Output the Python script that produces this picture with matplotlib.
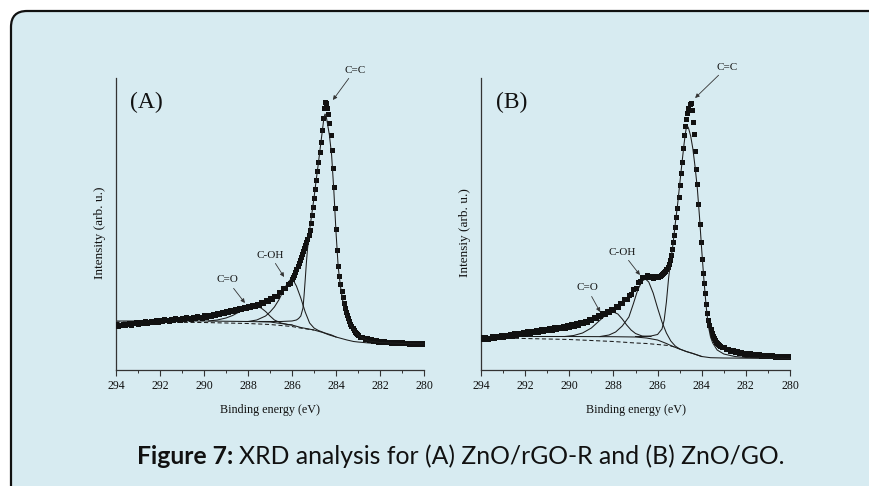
import numpy as np
import matplotlib
matplotlib.use("Agg")
import matplotlib.pyplot as plt
from matplotlib.patches import FancyBboxPatch

W, H, DPI = 869, 486, 100

# ---------------- data ----------------
# binding energy sampling (eV): 0.1 eV on the flanks, 0.05 eV around the main peak
energy = np.concatenate([np.arange(294.0, 286.05, -0.1),
                         np.arange(286.0, 283.025, -0.05),
                         np.arange(283.0, 279.95, -0.1)])

intensity_A = [
    46, 44, 45.5, 46.5, 45, 46.5, 47.5, 45.5, 47, 48, 46.5,
    48.5, 47, 49, 47.5, 48, 49.5, 48, 50, 48.5, 50.5,
    49, 51, 50, 49.5, 51.5, 50, 52, 51, 50.5, 52.5,
    51, 53, 52, 51.5, 53.5, 52, 54, 53, 52.5, 55,
    53, 55.5, 54, 56.5, 55, 57.5, 56, 58.5, 57, 59.5,
    58, 60.5, 59, 61.5, 60, 62.5, 61, 63.5, 62, 64.5,
    63, 65.5, 64, 66.5, 65, 68, 67, 70, 69, 72,
    71, 74.5, 74, 78, 78, 82, 82, 86.5, 87,
    91, 93, 95, 98, 101, 104, 107, 110, 113, 116,
    119, 122, 125, 128, 131, 135, 140, 147, 155, 163,
    172, 181, 190, 199, 208, 218, 228, 240, 252, 262,
    268, 267, 262, 256, 247, 235, 220, 202, 183, 162,
    141, 120, 104, 94, 86, 79, 73, 67, 62, 58,
    55, 52, 49, 46.5, 44, 42, 40, 38.5, 37, 36,
    35.5, 33.5, 33.5, 31.5, 32, 30.5, 31, 29.5, 30, 28.5, 29.5,
    28, 29, 28, 28.5, 27.5, 28.5, 27.5, 28, 27, 28,
    27, 27.5, 26.5, 27.5, 26.5, 27.5, 26.5, 27, 26, 27]

intensity_B = [
    33, 31, 33.5, 31.5, 32, 34, 32.5, 34.5, 33, 35, 33.5,
    35.5, 34, 36.5, 34.5, 37, 35, 37.5, 36, 38, 36.5,
    39, 37, 39.5, 38, 40, 38.5, 41, 39, 41.5, 40,
    42, 40.5, 43, 41, 43.5, 42, 44, 42.5, 45, 43.5,
    46, 44.5, 47, 45.5, 48, 47, 49.5, 48.5, 51, 50,
    53, 52, 55, 54, 57, 56, 59, 58, 61, 60.5,
    64, 63.5, 67, 67, 71, 71, 75, 76, 81, 82.5,
    88, 89, 93.5, 93, 95.5, 93, 94.5, 92, 94,
    93.5, 94, 94.5, 95.5, 96.5, 97.5, 98.5, 99.5, 101, 103,
    106, 110, 115, 121, 128, 135, 143, 153, 162, 173,
    185, 197, 208, 222, 235, 244, 251, 257, 262, 266,
    267, 260, 248, 236, 219, 201, 186, 166, 146, 128,
    111, 97, 87, 77, 66, 57, 50, 45, 41, 37.5,
    34, 32, 30, 28.5, 27, 26, 25, 24, 23.5, 23,
    23, 21, 21, 19.5, 20, 18.5, 19, 17.5, 18, 16.5, 17.5,
    16, 17, 15.5, 16.5, 15, 16, 14.5, 15.5, 14.5, 15,
    14, 15, 13.5, 14.5, 13.5, 14.5, 13, 14, 13, 14]

# fitted background / components, panel A
bgA_E = [294, 290, 288, 287, 286.5, 286, 285.6, 285.0, 284.6, 284.3, 284.0, 283.5, 283.2, 283.0, 282.5, 282.0, 280]
bgA_I = [49, 49, 48.5, 48, 46.5, 45, 42.5, 40, 37.5, 35, 33, 30, 28.5, 28, 27, 26.5, 26]
dashA_E = [294, 290, 288, 287, 286.5, 286, 285.5, 285.0]
dashA_I = [48, 47.5, 46.5, 45.5, 44.5, 43.5, 41.5, 40]
coA_E = [289.8, 289.4, 289.0, 288.7, 288.4, 288.1, 287.8, 287.6, 287.4, 287.2, 287.0, 286.8, 286.5, 286.2, 286.0]
coA_I = [49, 50, 52, 54.5, 58, 61.5, 63.5, 63.5, 62, 58.5, 54, 50, 47, 45.5, 45]
cohA_E = [288.0, 287.6, 287.2, 287.0, 286.8, 286.6, 286.4, 286.2, 286.05, 285.95, 285.8, 285.6, 285.4, 285.2, 285.0, 284.8, 284.5, 284.2, 284.0]
cohA_I = [48.5, 50, 54, 58, 63, 70, 79, 87, 91, 90, 84, 72, 58, 47, 42, 39.5, 37, 35, 33]
ccA_E = [287.5, 287.0, 286.5, 286.0, 285.8, 285.7, 285.6, 285.5, 285.45, 285.4, 285.35, 285.3, 285.2, 285.1,
         285.0, 284.9, 284.8, 284.7, 284.6, 284.55, 284.5, 284.45, 284.4, 284.3, 284.2, 284.1, 284.0, 283.9,
         283.8, 283.7, 283.6, 283.5, 283.4, 283.2, 283.0, 282.8, 282.5, 282.0, 281.0, 280.0]
ccA_I = [48.5, 48.5, 48.5, 49, 50, 51.5, 54, 62, 75, 90, 106, 120, 140, 156,
         172, 190, 207, 225, 243, 252, 256, 254, 248, 235, 215, 180, 138, 103,
         84, 70, 60, 53, 47, 40, 35, 32, 29, 27.5, 26.5, 26]

# fitted background / components, panel B
bgB_E = [294, 290, 288, 287, 286.5, 286.0, 285.6, 285.3, 285.0, 284.7, 284.4, 284.0, 283.6, 283.0, 280.0]
bgB_I = [33.5, 33.5, 33.3, 33, 32, 30, 26.5, 23.5, 21, 18.5, 16.5, 13.5, 12.3, 12, 11.5]
dashB_E = [294, 292, 290, 289, 288, 287, 286.5, 286.0, 285.5, 285.2, 285.0]
dashB_I = [32.5, 31.5, 30.5, 29.5, 28.5, 27, 26.5, 25.5, 24.5, 23, 21]
coB_E = [290.2, 289.8, 289.4, 289.0, 288.7, 288.4, 288.2, 288.0, 287.8, 287.6, 287.4, 287.2, 287.0, 286.7, 286.3]
coB_I = [33.5, 34.5, 37, 42, 48, 54, 57, 58, 56, 51, 45, 40, 36.5, 34, 33.5]
cohB_E = [288.6, 288.2, 287.9, 287.6, 287.3, 287.1, 286.9, 286.7, 286.55, 286.4, 286.2, 286.0, 285.8, 285.6,
          285.4, 285.2, 285.0, 284.7, 284.4, 284.0]
cohB_I = [33.5, 35, 38, 44, 53, 66, 80, 89, 91, 88, 77, 62, 48, 37, 29, 24, 21, 18.5, 16.5, 13.5]
ccB_E = [287.0, 286.6, 286.3, 286.0, 285.8, 285.7, 285.6, 285.5, 285.4, 285.3, 285.2, 285.1, 285.0, 284.9,
         284.8, 284.75, 284.7, 284.65, 284.6, 284.5, 284.4, 284.3, 284.2, 284.1, 284.0, 283.9, 283.8, 283.7,
         283.6, 283.5, 283.3, 283.0, 282.5, 282.0, 281.0, 280.0]
ccB_I = [33.5, 33.5, 34, 35.5, 41, 50, 68, 92, 110, 126, 146, 164, 185, 206,
         226, 235, 242, 244, 242, 234, 221, 203, 182, 153, 120, 90, 64, 44,
         33, 27, 20, 16, 13.5, 12.5, 12, 11.5]

x_ticks = [294, 292, 290, 288, 286, 284, 282, 280]
x_tick_labels = ["294", "292", "290", "288", "286", "284", "282", "280"]

# ---------------- figure ----------------
SERIF = "Liberation Serif"
INK = "#1c1c1c"
BG = "#d7ebf1"

fig = plt.figure(figsize=(W / DPI, H / DPI), dpi=DPI)
fig.patch.set_facecolor("white")

bg_ax = fig.add_axes([0, 0, 1, 1], zorder=0)
bg_ax.set_xlim(0, W)
bg_ax.set_ylim(H, 0)
bg_ax.axis("off")
bg_ax.add_patch(FancyBboxPatch((11, 11), 900, 520, boxstyle="round,pad=0,rounding_size=16",
                               facecolor=BG, edgecolor="#111111", linewidth=1.6))


def px_axes(left, top, right, bottom):
    return [left / W, 1 - bottom / H, (right - left) / W, (bottom - top) / H]


def panel(rect, inten, bgE, bgI, dE, dI, coE, coI, cohE, cohI, ccE, ccI, tag, ylab, labels):
    ax = fig.add_axes(rect, zorder=1)
    ax.set_facecolor("none")
    ax.set_xlim(294, 280)
    ax.set_ylim(0, 292)
    for s in ("top", "right"):
        ax.spines[s].set_visible(False)
    for s in ("left", "bottom"):
        ax.spines[s].set_color("#333333")
        ax.spines[s].set_linewidth(0.9)
    ax.set_yticks([])
    ax.set_xticks(x_ticks)
    ax.set_xticklabels(x_tick_labels, family=SERIF, fontsize=8.5)
    ax.set_xticks(np.arange(293, 280, -2), minor=True)
    ax.tick_params(axis="x", which="major", direction="out", length=4, width=0.8, pad=3, colors="#333333",
                   labelcolor="#111111")
    ax.tick_params(axis="x", which="minor", direction="out", length=2.5, width=0.7, colors="#333333")

    lw = 0.75
    ax.plot(bgE, bgI, color=INK, lw=lw, zorder=2)
    ax.plot(dE, dI, color=INK, lw=lw, ls=(0, (4, 2.5)), zorder=2)
    ax.plot(coE, coI, color=INK, lw=lw, zorder=2)
    ax.plot(cohE, cohI, color=INK, lw=lw, zorder=2)
    ax.plot(ccE, ccI, color=INK, lw=lw, zorder=4)
    ax.plot(energy, inten, ls="none", marker="s", ms=3.6, mew=0, color="#111111", zorder=3)

    ax.text(tag[1], tag[2], tag[0], family=SERIF, fontsize=17, ha="center", va="center", color="#111111")
    for txt, tx, ty, hx, hy in labels:
        ax.annotate(txt, xy=(hx, hy), xytext=(tx, ty), family=SERIF, fontsize=8, ha="center", va="center",
                    color="#111111", annotation_clip=False,
                    arrowprops=dict(arrowstyle="-|>", lw=0.6, color="#333333", mutation_scale=6,
                                    shrinkA=1, shrinkB=0))
    ax.text(-0.052, 0.47, ylab, transform=ax.transAxes, rotation=90, family=SERIF, fontsize=9.5,
            ha="center", va="center", color="#111111")
    ax.text(0.5, -0.137, "Binding energy (eV)", transform=ax.transAxes, family=SERIF, fontsize=8.7,
            ha="center", va="center", color="#111111")
    return ax


panel(px_axes(116, 78, 424, 370), intensity_A, bgA_E, bgA_I, dashA_E, dashA_I, coA_E, coA_I,
      cohA_E, cohA_I, ccA_E, ccA_I, ("(A)", 292.6, 268), "Intensity (arb. u.)",
      [("C=C", 283.14, 300, 284.14, 270),
       ("C-OH", 287.0, 115, 286.36, 93),
       ("C=O", 288.95, 90, 288.14, 67)])

panel(px_axes(481, 78, 790, 370), intensity_B, bgB_E, bgB_I, dashB_E, dashB_I, coB_E, coB_I,
      cohB_E, cohB_I, ccB_E, ccB_I, ("(B)", 292.6, 268), "Intensiy (arb. u.)",
      [("C=C", 282.85, 303, 284.30, 272),
       ("C-OH", 287.61, 118, 286.80, 95),
       ("C=O", 289.2, 82, 288.6, 58)])

# caption: bold lead-in followed by regular text, fitted to the reference width
cap_font = ["Lato", "DejaVu Sans"]
CAP_X0, CAP_X1, CAP_Y = 137, 785, 456


def draw_caption(size):
    a = bg_ax.text(CAP_X0, CAP_Y, "Figure 7:", family=cap_font, fontsize=size, fontweight="bold",
                   ha="left", va="center", color="#111111")
    fig.canvas.draw()
    r = fig.canvas.get_renderer()
    bb = a.get_window_extent(r)
    x_end = bg_ax.transData.inverted().transform((bb.x1, bb.y0))[0]
    b = bg_ax.text(x_end + size * 0.3, CAP_Y, "XRD analysis for (A) ZnO/rGO-R and (B) ZnO/GO.", family=cap_font,
                   fontsize=size, ha="left", va="center", color="#111111")
    fig.canvas.draw()
    bb2 = b.get_window_extent(r)
    x_fin = bg_ax.transData.inverted().transform((bb2.x1, bb2.y0))[0]
    return a, b, x_fin


size = 16.0
a, b, x_fin = draw_caption(size)
size = size * (CAP_X1 - CAP_X0) / (x_fin - CAP_X0)
a.remove()
b.remove()
draw_caption(size)

fig.savefig("out.png", dpi=DPI)
